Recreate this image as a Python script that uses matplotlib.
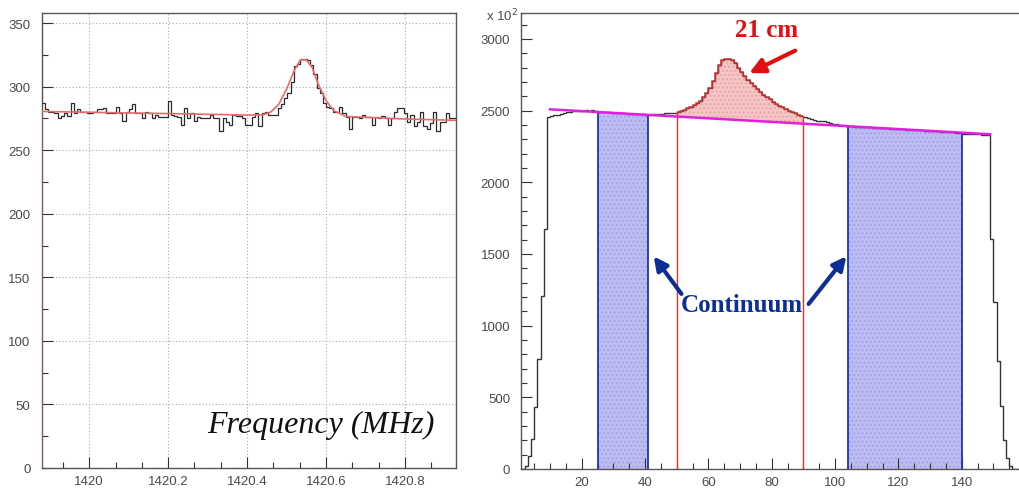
import numpy as np
import matplotlib
matplotlib.use("Agg")
import matplotlib.pyplot as plt
from matplotlib.ticker import MultipleLocator, FixedLocator

# ---------------- data: left panel (frequency spectrum) ----------------
freq_start = 1419.879
freq_stop = 1420.9285
left_counts = [287, 282, 280, 280, 279, 275, 277, 279, 277, 287,
               279, 282, 280, 280, 279, 279, 280, 282, 282, 283,
               279, 279, 279, 284, 279, 273, 280, 282, 286, 279,
               279, 275, 280, 279, 275, 278, 276, 276, 276, 289,
               278, 277, 276, 270, 283, 275, 279, 273, 276, 275,
               275, 275, 278, 275, 275, 265, 275, 272, 270, 278,
               277, 277, 275, 270, 270, 276, 279, 269, 279, 280,
               278, 278, 278, 283, 286, 291, 295, 304, 316, 318,
               322, 322, 321, 317, 310, 299, 295, 287, 284, 283,
               280, 280, 284, 279, 276, 267, 276, 276, 275, 278,
               276, 276, 270, 276, 275, 277, 275, 270, 275, 280,
               283, 283, 279, 272, 278, 269, 272, 280, 269, 267,
               271, 280, 265, 272, 272, 279, 275, 275]
fit_freq = [1419.879, 1419.879, 1420.0, 1420.2, 1420.4, 1420.44, 1420.46,
            1420.48, 1420.50, 1420.52, 1420.535, 1420.55, 1420.565,
            1420.58, 1420.60, 1420.62, 1420.65, 1420.8, 1420.9285]
fit_vals = [0, 280.5, 279.8, 278.8, 277.6, 277.8, 280, 286, 298, 313,
            321, 321, 315, 302, 289, 281, 276.5, 274.5, 273.5]
left_xticks = [1420.0, 1420.2, 1420.4, 1420.6, 1420.8]
left_xlabels = ["1420", "1420.2", "1420.4", "1420.6", "1420.8"]
left_yticks = [0, 50, 100, 150, 200, 250, 300, 350]

# ---------------- data: right panel (channel spectrum, x 10^2) ----------------
chan_start = 0
right_counts = [0, 0, 23, 93, 209, 432, 767, 1208, 1673, 2454,
                2460, 2466, 2472, 2478, 2484, 2488, 2492, 2495, 2498, 2500,
                2500, 2502, 2500, 2505, 2500,
                2490, 2489, 2488, 2487, 2486, 2485, 2484, 2483, 2481, 2478,
                2476, 2474, 2475, 2474, 2473, 2472,
                2472, 2474, 2476, 2478, 2478, 2480, 2482, 2484, 2486,
                2490, 2495, 2505, 2515, 2525, 2538, 2552, 2570, 2595, 2625,
                2660, 2710, 2765, 2815, 2850, 2858, 2858, 2852, 2830, 2800,
                2770, 2745, 2715, 2690, 2672, 2650, 2630, 2612, 2595, 2578,
                2562, 2548, 2535, 2522, 2510, 2500, 2490, 2480, 2472, 2465,
                2455, 2450, 2440, 2435, 2430, 2428, 2425, 2418, 2412, 2408,
                2405, 2402, 2398, 2395,
                2392, 2391, 2389, 2388, 2387, 2385, 2384, 2383, 2381, 2380,
                2379, 2378, 2376, 2375, 2374, 2372, 2371, 2370, 2368, 2367,
                2366, 2364, 2363, 2362, 2360, 2359, 2358, 2356, 2355, 2354,
                2352, 2351, 2350, 2348, 2347, 2346,
                2340, 2338, 2337, 2336, 2335, 2334, 2333, 2332, 2330,
                1603, 1162, 750, 441, 200, 80, 20, 0, 0]
baseline_x = [10, 149]
baseline_y = [2509, 2335]
continuum_bands = [(25, 41), (104, 140)]
line_window = (50, 90)
right_xticks = [20, 40, 60, 80, 100, 120, 140]
right_yticks = [0, 500, 1000, 1500, 2000, 2500, 3000]

# ---------------- figure ----------------
W, H = 1019, 489
fig = plt.figure(figsize=(W / 100, H / 100), dpi=100)
fig.patch.set_facecolor("white")

tick_font = dict(family="Liberation Sans", size=9.5, color="#4a4a4a")


def px_axes(x0, y0, x1, y1):
    return fig.add_axes([x0 / W, 1 - y1 / H, (x1 - x0) / W, (y1 - y0) / H])


# ---------- left panel ----------
axL = px_axes(41.5, 14, 455.7, 469)
edgesL = np.linspace(freq_start, freq_stop, len(left_counts) + 1)
axL.stairs(left_counts, edgesL, color="#2a2a2a", lw=0.9, baseline=None, zorder=3)
axL.plot(fit_freq, fit_vals, color="#e86a6a", lw=1.2, zorder=4)
axL.set_xlim(freq_start, freq_stop)
axL.set_ylim(0, 357.9)
axL.xaxis.set_major_locator(FixedLocator(left_xticks))
axL.set_xticklabels(left_xlabels, **tick_font)
axL.xaxis.set_minor_locator(MultipleLocator(0.2 / 3))
axL.yaxis.set_major_locator(FixedLocator(left_yticks))
axL.set_yticklabels([str(v) for v in left_yticks], **tick_font)
axL.yaxis.set_minor_locator(MultipleLocator(25))
axL.tick_params(which="major", direction="in", length=8, width=0.8,
                color="#333333", pad=5)
axL.tick_params(which="minor", direction="in", length=4, width=0.8,
                color="#333333")
axL.tick_params(axis="y", which="major", pad=8)
axL.grid(True, which="major", ls=(0, (1, 2)), color="#a8a8a8", lw=0.8)
for s in axL.spines.values():
    s.set_color("#555555")
    s.set_linewidth(1.0)
axL.text(0.675, 0.095, "Frequency (MHz)", transform=axL.transAxes,
         ha="center", va="center", fontsize=23, style="italic",
         family="Liberation Serif", color="#111111", zorder=6)

# ---------- right panel ----------
axR = px_axes(521.3, 14, 1019, 470)
edgesR = np.arange(chan_start, chan_start + len(right_counts) + 1)
counts = np.array(right_counts, dtype=float)
base_line = np.interp(edgesR[:-1], baseline_x, baseline_y)

# continuum bands (blue)
for lo, hi in continuum_bands:
    sel = slice(lo - chan_start, hi - chan_start)
    e = edgesR[sel.start:sel.stop + 1]
    v = counts[sel]
    axR.fill_between(e, np.append(v, v[-1]), 0, step="post",
                     facecolor="#bdbdf2", edgecolor="#a3a4ea",
                     hatch="....", lw=0, zorder=1)
    axR.plot([lo, lo], [0, v[0]], color="#2233bb", lw=1.3, zorder=4)
    axR.plot([hi, hi], [0, v[-1]], color="#2233bb", lw=1.3, zorder=4)

# 21 cm line window (red)
lo, hi = line_window
sel = slice(lo - chan_start, hi - chan_start)
e = edgesR[sel.start:sel.stop + 1]
v = counts[sel]
b = base_line[sel]
axR.fill_between(e, np.append(v, v[-1]), np.append(b, b[-1]), step="post",
                 facecolor="#f5c6c6", edgecolor="#eaa5a5", hatch="....",
                 lw=0, zorder=1)
axR.stairs(counts, edgesR, color="#333333", lw=1.0, baseline=None, zorder=3)
axR.stairs(v, e, color="#d03535", lw=1.1, baseline=None, zorder=3.5)
axR.plot([lo, lo], [0, v[0]], color="#e8331f", lw=1.0, zorder=4)
axR.plot([hi, hi], [0, v[-1]], color="#e8331f", lw=1.0, zorder=4)

axR.plot(baseline_x, baseline_y, color="#e020e0", lw=1.8, zorder=5)

axR.set_xlim(0.9, 158.1)
axR.set_ylim(0, 3181)
axR.xaxis.set_major_locator(FixedLocator(right_xticks))
axR.set_xticklabels([str(v) for v in right_xticks], **tick_font)
axR.xaxis.set_minor_locator(MultipleLocator(5))
axR.yaxis.set_major_locator(FixedLocator(right_yticks))
axR.set_yticklabels([str(v) for v in right_yticks], **tick_font)
axR.yaxis.set_minor_locator(MultipleLocator(100))
axR.tick_params(which="major", direction="in", length=8, width=0.8,
                color="#333333", pad=5)
axR.tick_params(which="minor", direction="in", length=4, width=0.8,
                color="#333333")
axR.tick_params(axis="y", which="major", pad=8)
for name, s in axR.spines.items():
    s.set_color("#555555")
    s.set_linewidth(1.0)
axR.spines["right"].set_visible(False)

fig.text(518 / W, 1 - 21 / H, r"x 10$^2$", ha="right", va="baseline",
         fontsize=9.5, family="Liberation Sans", color="#4a4a4a")

# annotations
axR.annotate("", xy=(72.1, 2753), xytext=(88.2, 2927),
             arrowprops=dict(arrowstyle="-|>,head_length=0.9,head_width=0.45",
                             color="#e01010", lw=3), zorder=7)
axR.text(78.5, 3067, "21 cm", ha="center", va="center", fontsize=18,
         fontweight="bold", family="Liberation Serif", color="#dd1111", zorder=7)
axR.text(70.6, 1150, "Continuum", ha="center", va="center", fontsize=18,
         fontweight="bold", family="Liberation Serif", color="#0d2e96", zorder=7)
for tail, head in [((52.0, 1206), (42.2, 1499)), ((91.1, 1136), (104.1, 1499))]:
    axR.annotate("", xy=head, xytext=tail,
                 arrowprops=dict(arrowstyle="-|>,head_length=0.8,head_width=0.4",
                                 color="#0d2e96", lw=3), zorder=7)

fig.savefig("out.png", dpi=100, facecolor="white")
